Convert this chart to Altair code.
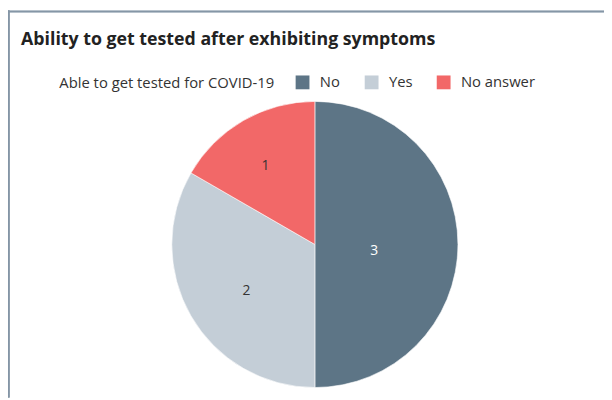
import altair as alt
import pandas as pd

categories = ["No", "Yes", "No answer"]
counts = [3, 2, 1]
colors = ["#5d7586", "#c4ced7", "#f26868"]

df = pd.DataFrame({"category": categories, "count": counts, "order": list(range(len(categories)))})

FONT = "Open Sans"
CX, CY = 311, 187

base = alt.Chart(df).encode(
    theta=alt.Theta("count:Q", stack=True),
    order=alt.Order("order:Q"),
)

arcs = base.mark_arc(outerRadius=145, stroke="#ffffff", strokeWidth=0.6).encode(
    x=alt.value(CX),
    y=alt.value(CY),
    color=alt.Color(
        "category:N",
        scale=alt.Scale(domain=categories, range=colors),
        legend=alt.Legend(
            title="Able to get tested for COVID-19",
            orient="none",
            legendX=52,
            legendY=15,
            direction="horizontal",
            titleOrient="left",
            titleFont=FONT,
            titleFontSize=15,
            titleFontWeight="normal",
            titleColor="#333333",
            titleLimit=400,
            titlePadding=21,
            labelFont=FONT,
            labelFontSize=15,
            labelColor="#333333",
            labelOffset=10,
            symbolType="square",
            symbolSize=196,
            symbolStrokeWidth=0,
            columnPadding=24,
        ),
    ),
)

labels = base.mark_text(font=FONT, fontSize=14, dy=7).encode(
    x=alt.value(CX),
    y=alt.value(CY),
    radius=alt.Radius("count:Q", scale=alt.Scale(type="linear", domain=[1, 3], range=[100, 60], zero=False)),
    text=alt.Text("count:Q"),
    color=alt.condition(alt.datum.category == "No", alt.value("#ffffff"), alt.value("#333333")),
)

border_top = alt.Chart(df).mark_rule(color="#8596a6", strokeWidth=1.5).encode(
    x=alt.value(0), x2=alt.value(604), y=alt.value(-49.2)
)
border_left = alt.Chart(df).mark_rule(color="#8596a6", strokeWidth=1.5).encode(
    x=alt.value(0.8), y=alt.value(-50), y2=alt.value(342)
)

chart = alt.layer(arcs, labels, border_top, border_left).properties(
    width=604,
    height=342,
    autosize=alt.AutoSizeParams(type="none"),
    padding={"left": 0, "top": 50, "right": 0, "bottom": 0},
    title=alt.TitleParams(
        "Ability to get tested after exhibiting symptoms",
        anchor="start",
        font=FONT,
        fontSize=18,
        fontWeight="bold",
        color="#222222",
        dx=14,
        dy=52,
        offset=12,
    ),
).configure_view(stroke=None)

chart.save("out.html", embed_options={"renderer": "svg", "actions": False})
